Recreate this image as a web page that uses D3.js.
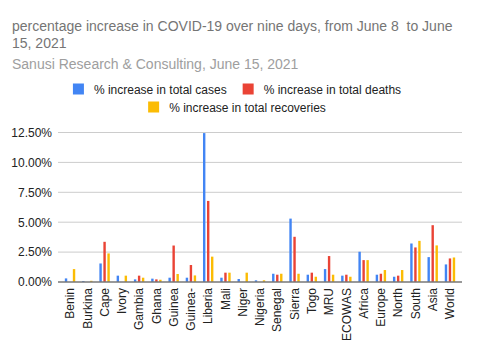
<!DOCTYPE html>
<html>
<head>
<meta charset="utf-8">
<script src="https://cdn.jsdelivr.net/npm/d3@7"></script>
<style>
  body { margin: 0; background: #fff; }
  svg { font-family: Arial, "Liberation Sans", sans-serif; }
</style>
</head>
<body>
<svg width="480" height="360"></svg>
<script>
// categories and series values (percent)
const regions = ['Benin', 'Burkina', 'Cape', 'Ivory', 'Gambia', 'Ghana', 'Guinea', 'Guinea-',
  'Liberia', 'Mali', 'Niger', 'Nigeria', 'Senegal', 'Sierra', 'Togo', 'MRU', 'ECOWAS',
  'Africa', 'Europe', 'North', 'South', 'Asia', 'World'];
const seriesNames = ['% increase in total cases', '% increase in total deaths', '% increase in total recoveries'];
const cases = [0.3, 0.08, 1.55, 0.53, 0.22, 0.28, 0.36, 0.36, 12.45, 0.36, 0.25, 0.14, 0.69,
  5.3, 0.61, 1.08, 0.53, 2.53, 0.61, 0.44, 3.22, 2.08, 1.47];
const deaths = [0, 0, 3.36, 0, 0.53, 0.22, 3.05, 1.42, 6.78, 0.78, 0, 0, 0.61,
  3.78, 0.78, 2.17, 0.61, 1.83, 0.69, 0.53, 2.89, 4.75, 1.97];
const recoveries = [1.08, 0.1, 2.39, 0.53, 0.36, 0.19, 0.67, 0.55, 2.12, 0.78, 0.78, 0.14, 0.69,
  0.69, 0.44, 0.61, 0.44, 1.83, 1.0, 1.0, 3.44, 3.06, 2.05];
const yTicks = [0, 2.5, 5, 7.5, 10, 12.5];
const colors = ['#4285f4', '#ea4335', '#fbbc04'];

const svg = d3.select('svg');

// titles (title keeps its double space)
svg.append('text').attr('x', 12).attr('y', 31)
  .style('font-size', '14px').style('fill', '#757575').style('white-space', 'pre')
  .text('percentage increase in COVID-19 over nine days, from June 8  to June');
svg.append('text').attr('x', 12).attr('y', 47.5)
  .style('font-size', '14px').style('fill', '#757575')
  .text('15, 2021');
svg.append('text').attr('x', 12).attr('y', 68.5)
  .style('font-size', '14px').style('fill', '#9e9e9e')
  .text('Sanusi Research & Consulting, June 15, 2021');

// legend, two centred rows
const legendRows = [[0, 1], [2]];
const legendY = [83.5, 101.5];
legendRows.forEach((row, r) => {
  const g = svg.append('g');
  let cx = 0;
  row.forEach((s, k) => {
    if (k > 0) cx += 16;
    g.append('rect').attr('x', cx).attr('y', legendY[r]).attr('width', 11).attr('height', 11)
      .style('fill', colors[s]);
    const t = g.append('text').attr('x', cx + 21).attr('y', legendY[r] + 10)
      .style('font-size', '12px').style('fill', '#222').text(seriesNames[s]);
    cx += 21 + t.node().getComputedTextLength();
  });
  g.attr('transform', `translate(${237 - cx / 2},0)`);
});

// scales
const plotLeft = 58, plotRight = 462;
const x = d3.scaleBand().domain(regions).range([61.4, 458.6]);
const x1 = d3.scaleBand().domain([0, 1, 2]).range([-5.2, 5.2]).paddingInner(0.4);
const y = d3.scaleLinear().domain([0, 12.5]).range([282, 132.5]);

// gridlines
svg.append('g').selectAll('line').data(yTicks.slice(1)).join('line')
  .attr('x1', plotLeft).attr('x2', plotRight)
  .attr('y1', d => y(d)).attr('y2', d => y(d))
  .style('stroke', '#cccccc').style('stroke-width', 1);

// y axis labels
const yAxis = d3.axisLeft(y).tickValues(yTicks).tickSize(0).tickPadding(0)
  .tickFormat(d => d.toFixed(2) + '%');
const ya = svg.append('g').attr('transform', `translate(52,0)`).call(yAxis);
ya.select('.domain').remove();
ya.selectAll('text').style('font-size', '12px').style('fill', '#222')
  .style('font-family', 'Arial, "Liberation Sans", sans-serif');

// bars
const series = [cases, deaths, recoveries];
series.forEach((vals, s) => {
  svg.append('g').selectAll('rect').data(regions).join('rect')
    .attr('x', (d, i) => x(d) + x.bandwidth() / 2 + x1(s))
    .attr('width', x1.bandwidth())
    .attr('y', (d, i) => y(vals[i]))
    .attr('height', (d, i) => y(0) - y(vals[i]))
    .style('fill', colors[s]);
});

// baseline
svg.append('line').attr('x1', plotLeft).attr('x2', plotRight)
  .attr('y1', y(0)).attr('y2', y(0))
  .style('stroke', '#777').style('stroke-width', 1.5);

// x labels, rotated
svg.append('g').selectAll('text').data(regions).join('text')
  .attr('transform', d => `translate(${x(d) + x.bandwidth() / 2},288) rotate(-90)`)
  .attr('dy', '0.35em')
  .style('text-anchor', 'end')
  .style('font-size', '12px').style('fill', '#222')
  .text(d => d);
</script>
</body>
</html>
